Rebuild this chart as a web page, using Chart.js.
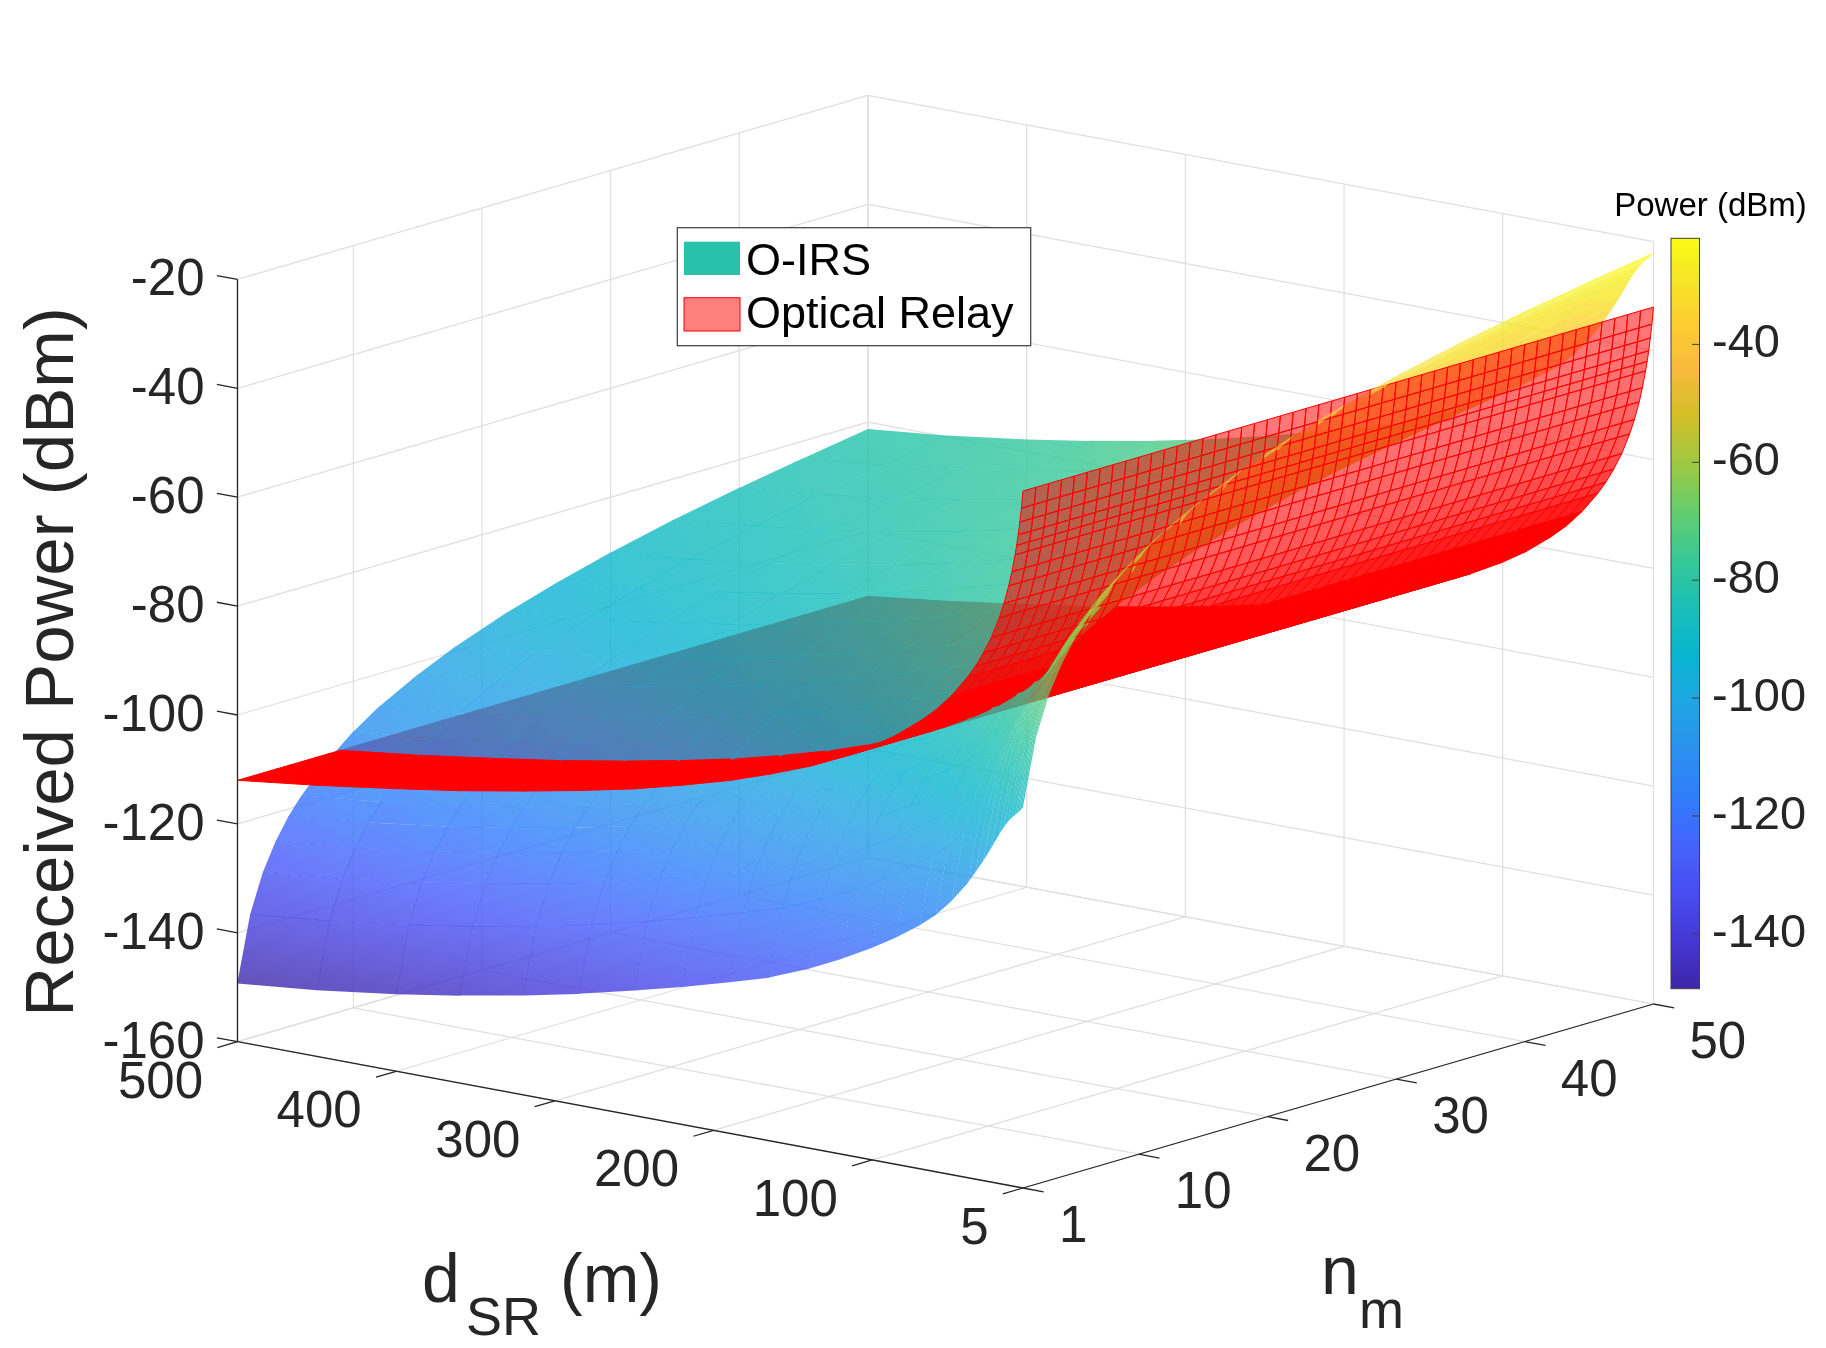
<!DOCTYPE html>
<html>
<head>
<meta charset="utf-8">
<title>Received power: O-IRS vs optical relay</title>
<script src="https://cdn.jsdelivr.net/npm/chart.js@4.4.1/dist/chart.umd.min.js"></script>
<style>
  html, body { margin: 0; padding: 0; background: #fff; }
  #wrap { width: 1826px; height: 1348px; }
</style>
</head>
<body>
<div id="wrap"><canvas id="surf" width="1826" height="1348"></canvas></div>
<script>
// sample distances along d_SR (m)
const dSR = [5, 6, 7, 8, 9, 10, 12, 14, 17, 20, 25, 30, 35, 40, 50, 60, 70, 85, 100,
             120, 140, 165, 190, 220, 250, 285, 320, 360, 400, 450, 500];
// O-IRS received power at n_m = 1 (dBm), read along the front edge
const oirsBaseN1 = [-90.0, -90.4, -90.8, -91.1, -91.4, -91.7, -92.3, -93.0, -94.3, -95.8,
                    -98.6, -101.2, -103.6, -105.9, -109.7, -112.8, -115.2, -118.3, -121.0,
                    -124.2, -127.0, -130.0, -132.2, -134.7, -137.0, -139.5, -141.7, -143.9,
                    -145.8, -147.8, -149.3];
// number of mirrors n_m and the O-IRS gain over n_m = 1 (dB), read along the d_SR = 500 edge
const nm = [1, 2, 3, 4, 5, 6, 8, 10, 12, 15, 18, 22, 26, 30, 35, 40, 45, 50];
const oirsGainN = [0, 12.0, 19.1, 24.1, 28.0, 31.1, 36.1, 40.0, 43.2, 47.0, 50.2, 53.7,
                   56.6, 59.1, 61.8, 64.1, 66.1, 68.0];
// optical relay received power vs d_SR (dBm), flat along n_m
const relayPower = [-32.0, -35.2, -37.8, -40.2, -42.2, -44.0, -47.2, -49.9, -53.3, -56.1,
                    -60.0, -63.1, -65.8, -68.1, -72.0, -75.2, -77.8, -81.2, -84.0, -87.2,
                    -89.9, -92.7, -95.2, -97.7, -100.0, -102.2, -104.2, -106.3, -108.1,
                    -110.2, -112.0];

const dTicks = [5, 100, 200, 300, 400, 500];
const nTicks = [1, 10, 20, 30, 40, 50];
const pTicks = [-160, -140, -120, -100, -80, -60, -40, -20];
const cbTicks = [-140, -120, -100, -80, -60, -40];

// projected box: front-bottom corner and the three edge vectors (px)
const F0 = { x: 1023, y: 1188 };
const EU = { x: -785.5, y: -146.3 };   // d_SR 5 -> 500
const EV = { x: 630.5, y: -184 };      // n_m 1 -> 50
const EW = -762.3;                     // power -160 -> -20
const DEPTH = [610, 765, -185];        // larger = further from viewer

const FONT = '"Liberation Sans", Arial, Helvetica, sans-serif';
const AXIS_COLOR = '#262626';
const GRID_COLOR = '#dfdfdf';
const OIRS_ALPHA = 0.8;
const RELAY_ALPHA = 0.5;
const CB = { left: 1671, top: 238.3, width: 28.5, height: 750.4 };
const LEG = { x: 677.3, y: 227.7, w: 353.4, h: 118 };

// parula colour map, every 4th entry of the 64-step table
const PARULA = [[62, 38, 168], [69, 55, 213], [72, 77, 240], [69, 99, 253], [50, 124, 252],
                [43, 145, 239], [32, 165, 227], [8, 181, 208], [25, 191, 182], [55, 200, 151],
                [100, 205, 111], [157, 201, 67], [209, 191, 39], [248, 186, 61], [252, 207, 48],
                [245, 233, 36], [249, 251, 21]];
const PARULA_T = [0, 4, 8, 12, 16, 20, 24, 28, 32, 36, 40, 44, 48, 52, 56, 60, 63].map(r => r / 63);

function parula(t) {
  t = Math.max(0, Math.min(1, t));
  let i = 0;
  while (i < PARULA_T.length - 2 && t > PARULA_T[i + 1]) i++;
  const f = (t - PARULA_T[i]) / (PARULA_T[i + 1] - PARULA_T[i]);
  const a = PARULA[i], b = PARULA[i + 1];
  return [0, 1, 2].map(k => Math.round(a[k] + (b[k] - a[k]) * f));
}

function poly(ctx, pts, grow) {
  let cx = 0, cy = 0;
  pts.forEach(p => { cx += p.x; cy += p.y; });
  cx /= pts.length; cy /= pts.length;
  ctx.beginPath();
  pts.forEach((p, k) => {
    const dx = p.x - cx, dy = p.y - cy, l = Math.hypot(dx, dy) || 1;
    const x = p.x + dx / l * grow, y = p.y + dy / l * grow;
    if (k === 0) ctx.moveTo(x, y); else ctx.lineTo(x, y);
  });
  ctx.closePath();
}

const surfacePlugin = {
  id: 'surface3d',
  beforeDraw(chart) {
    const ctx = chart.ctx;
    ctx.save();
    ctx.fillStyle = '#fff';
    ctx.fillRect(0, 0, chart.width, chart.height);
    ctx.restore();
  },
  afterDraw(chart) {
    const ctx = chart.ctx;
    const sd = chart.scales.x, sn = chart.scales.n, sp = chart.scales.y;
    const U = d => (sd.getPixelForValue(d) - sd.left) / sd.width;
    const V = n => (sn.getPixelForValue(n) - sn.left) / sn.width;
    const W = p => (sp.bottom - sp.getPixelForValue(p)) / sp.height;
    const at = (d, n, p) => {
      const u = U(d), v = V(n), w = W(p);
      return { x: F0.x + EU.x * u + EV.x * v, y: F0.y + EU.y * u + EV.y * v + EW * w,
               z: DEPTH[0] * u + DEPTH[1] * v + DEPTH[2] * w };
    };
    const seg = (a, b) => { ctx.beginPath(); ctx.moveTo(a.x, a.y); ctx.lineTo(b.x, b.y); ctx.stroke(); };
    const dMin = dSR[0], dMax = dSR[dSR.length - 1];
    const pMin = sp.min, pMax = sp.max;

    ctx.save();
    // grid on floor and the two back walls
    ctx.strokeStyle = GRID_COLOR;
    ctx.lineWidth = 1.2;
    dTicks.forEach(d => { seg(at(d, 1, pMin), at(d, 50, pMin)); seg(at(d, 50, pMin), at(d, 50, pMax)); });
    nTicks.forEach(n => { seg(at(dMin, n, pMin), at(dMax, n, pMin)); seg(at(dMax, n, pMin), at(dMax, n, pMax)); });
    pTicks.forEach(p => { seg(at(dMax, 1, p), at(dMax, 50, p)); seg(at(dMin, 50, p), at(dMax, 50, p)); });

    // O-IRS grid values and colour limits
    const oirs = oirsBaseN1.map(b => oirsGainN.map(g => b + g));
    const flat = oirs.flat();
    const cMin = Math.min(...flat), cMax = Math.max(...flat);
    const col = (p, a) => { const c = parula((p - cMin) / (cMax - cMin)); return `rgba(${c[0]},${c[1]},${c[2]},${a})`; };

    const faces = [];
    for (let i = 0; i < dSR.length - 1; i++) {
      for (let j = 0; j < nm.length - 1; j++) {
        const vals = [oirs[i][j], oirs[i + 1][j], oirs[i + 1][j + 1], oirs[i][j + 1]];
        const pts = [at(dSR[i], nm[j], vals[0]), at(dSR[i + 1], nm[j], vals[1]),
                     at(dSR[i + 1], nm[j + 1], vals[2]), at(dSR[i], nm[j + 1], vals[3])];
        faces.push({ kind: 'oirs', pts, vals, z: (pts[0].z + pts[1].z + pts[2].z + pts[3].z) / 4 });
      }
    }
    for (let i = 0; i < dSR.length - 1; i++) {
      for (let n = 1; n < 50; n++) {
        const pts = [at(dSR[i], n, relayPower[i]), at(dSR[i + 1], n, relayPower[i + 1]),
                     at(dSR[i + 1], n + 1, relayPower[i + 1]), at(dSR[i], n + 1, relayPower[i])];
        // spacing of the 1 m mesh lines on screen decides how solid the band looks
        const ax = pts[3].x - pts[0].x, ay = pts[3].y - pts[0].y;
        const bx = pts[1].x - pts[0].x, by = pts[1].y - pts[0].y;
        const gap = Math.abs(ax * by - ay * bx) / Math.hypot(ax, ay) / (dSR[i + 1] - dSR[i]);
        const alpha = RELAY_ALPHA + (1 - RELAY_ALPHA) * Math.min(1, 1.0 / Math.max(gap, 1e-6));
        faces.push({ kind: 'relay', pts, alpha, z: (pts[0].z + pts[1].z + pts[2].z + pts[3].z) / 4 });
      }
    }
    faces.sort((a, b) => b.z - a.z);

    faces.forEach(f => {
      const q = f.pts;
      if (f.kind === 'oirs') {
        const v = f.vals;
        const dn = (v[2] + v[3] - v[0] - v[1]) / 2, dd = (v[1] + v[2] - v[0] - v[3]) / 2;
        let a, b, va, vb;
        if (Math.abs(dn) >= Math.abs(dd)) {
          a = { x: (q[0].x + q[1].x) / 2, y: (q[0].y + q[1].y) / 2 }; va = (v[0] + v[1]) / 2;
          b = { x: (q[3].x + q[2].x) / 2, y: (q[3].y + q[2].y) / 2 }; vb = (v[3] + v[2]) / 2;
        } else {
          a = { x: (q[0].x + q[3].x) / 2, y: (q[0].y + q[3].y) / 2 }; va = (v[0] + v[3]) / 2;
          b = { x: (q[1].x + q[2].x) / 2, y: (q[1].y + q[2].y) / 2 }; vb = (v[1] + v[2]) / 2;
        }
        if (Math.hypot(b.x - a.x, b.y - a.y) > 0.5) {
          const g = ctx.createLinearGradient(a.x, a.y, b.x, b.y);
          g.addColorStop(0, col(va, OIRS_ALPHA));
          g.addColorStop(1, col(vb, OIRS_ALPHA));
          ctx.fillStyle = g;
        } else {
          ctx.fillStyle = col((va + vb) / 2, OIRS_ALPHA);
        }
        poly(ctx, q, 0.3);
        ctx.fill();
      } else {
        ctx.fillStyle = `rgba(255,0,0,${f.alpha})`;
        poly(ctx, q, 0);
        ctx.fill();
        ctx.strokeStyle = 'rgb(255,0,0)';
        ctx.lineWidth = 1;
        ctx.stroke();
      }
    });

    // axis lines and tick marks
    ctx.strokeStyle = AXIS_COLOR;
    ctx.lineWidth = 1.3;
    seg(at(dMax, 1, pMin), at(dMax, 1, pMax));
    seg(at(dMin, 1, pMin), at(dMax, 1, pMin));
    seg(at(dMin, 1, pMin), at(dMin, 50, pMin));
    const lu = Math.hypot(EU.x, EU.y), lv = Math.hypot(EV.x, EV.y), TL = 21;
    pTicks.forEach(p => { const s = at(dMax, 1, p); seg(s, { x: s.x + EU.x / lu * TL, y: s.y + EU.y / lu * TL }); });
    dTicks.forEach(d => { const s = at(d, 1, pMin); seg(s, { x: s.x - EV.x / lv * TL, y: s.y - EV.y / lv * TL }); });
    nTicks.forEach(n => { const s = at(dMin, n, pMin); seg(s, { x: s.x - EU.x / lu * TL, y: s.y - EU.y / lu * TL }); });

    // tick labels
    ctx.fillStyle = AXIS_COLOR;
    ctx.font = `51px ${FONT}`;
    ctx.textBaseline = 'middle';
    ctx.textAlign = 'right';
    pTicks.forEach(p => { const s = at(dMax, 1, p); ctx.fillText(String(p), s.x - 33, s.y + 2); });
    dTicks.forEach(d => { const s = at(d, 1, pMin); ctx.fillText(String(d), s.x - 34.5, s.y + 42); });
    ctx.textAlign = 'left';
    nTicks.forEach(n => { const s = at(dMin, n, pMin); ctx.fillText(String(n), s.x + 36, s.y + 40); });

    // axis titles
    ctx.save();
    ctx.translate(54, 662);
    ctx.rotate(-Math.PI / 2);
    ctx.textAlign = 'center';
    ctx.font = `69px ${FONT}`;
    ctx.fillText('Received Power (dBm)', 0, 0);
    ctx.restore();
    ctx.textBaseline = 'alphabetic';
    ctx.textAlign = 'left';
    ctx.font = `68px ${FONT}`;
    ctx.fillText('d', 422, 1302);
    ctx.fillText('(m)', 560, 1302);
    ctx.fillText('n', 1321, 1294);
    ctx.font = `54px ${FONT}`;
    ctx.fillText('SR', 466, 1335);
    ctx.fillText('m', 1359, 1328);

    // colour bar
    const cbY = p => CB.top + (cMax - p) / (cMax - cMin) * CB.height;
    const grad = ctx.createLinearGradient(0, CB.top + CB.height, 0, CB.top);
    PARULA.forEach((c, k) => grad.addColorStop(PARULA_T[k], `rgb(${c[0]},${c[1]},${c[2]})`));
    ctx.fillStyle = grad;
    ctx.fillRect(CB.left, CB.top, CB.width, CB.height);
    ctx.strokeStyle = '#404040';
    ctx.lineWidth = 1;
    ctx.strokeRect(CB.left, CB.top, CB.width, CB.height);
    ctx.fillStyle = AXIS_COLOR;
    ctx.font = `47px ${FONT}`;
    ctx.textBaseline = 'middle';
    cbTicks.forEach(p => {
      const y = cbY(p);
      seg({ x: CB.left + CB.width, y }, { x: CB.left + CB.width - 7.5, y });
      ctx.fillText(String(p), 1712, y);
    });
    ctx.fillStyle = '#000';
    ctx.font = `33px ${FONT}`;
    ctx.textAlign = 'center';
    ctx.textBaseline = 'alphabetic';
    ctx.fillText('Power (dBm)', 1710.5, 216);

    // legend
    ctx.fillStyle = '#fff';
    ctx.fillRect(LEG.x, LEG.y, LEG.w, LEG.h);
    ctx.strokeStyle = '#3a3a3a';
    ctx.lineWidth = 1.2;
    ctx.strokeRect(LEG.x, LEG.y, LEG.w, LEG.h);
    ctx.fillStyle = 'rgb(40,194,170)';
    ctx.fillRect(684, 241.7, 56, 33.3);
    ctx.fillStyle = `rgba(255,0,0,${RELAY_ALPHA})`;
    ctx.fillRect(684, 297.7, 56, 33.3);
    ctx.strokeStyle = 'rgb(255,0,0)';
    ctx.lineWidth = 1;
    ctx.strokeRect(684, 297.7, 56, 33.3);
    ctx.fillStyle = '#000';
    ctx.textAlign = 'left';
    ctx.font = `45px ${FONT}`;
    ctx.fillText(chart.data.datasets[0].label, 746, 275);
    ctx.fillText(chart.data.datasets[1].label, 746, 328);
    ctx.restore();
  }
};

new Chart(document.getElementById('surf'), {
  type: 'scatter',
  data: {
    datasets: [
      { label: 'O-IRS', data: [] },
      { label: 'Optical Relay', data: [] }
    ]
  },
  options: {
    responsive: false,
    animation: false,
    devicePixelRatio: 1,
    events: [],
    layout: { padding: 0 },
    plugins: { legend: { display: false }, tooltip: { enabled: false } },
    scales: {
      x: { type: 'linear', min: 5, max: 500, display: false },
      n: { type: 'linear', axis: 'x', position: 'bottom', min: 1, max: 50, display: false },
      y: { type: 'linear', min: -160, max: -20, display: false }
    }
  },
  plugins: [surfacePlugin]
});
</script>
</body>
</html>
